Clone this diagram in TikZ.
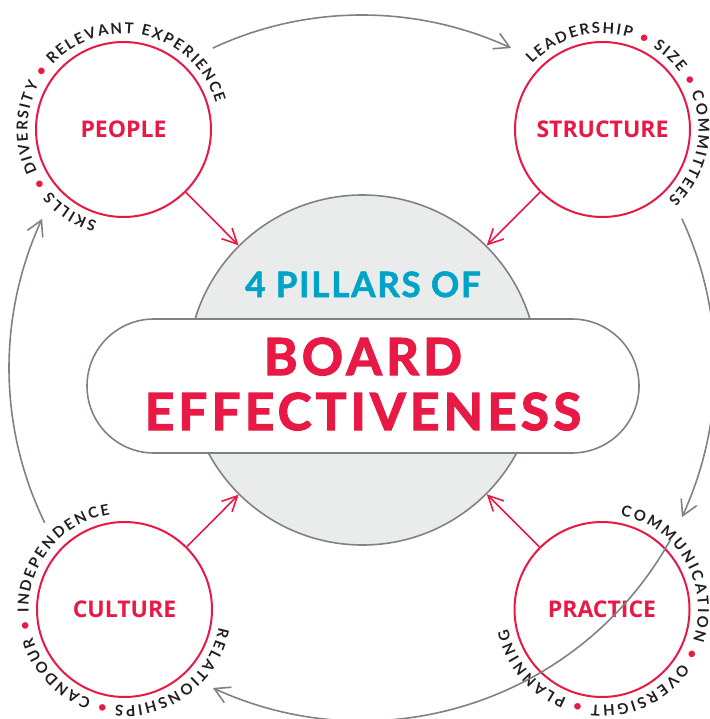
\documentclass[tikz,border=0pt]{standalone}
\usepackage{fontspec}
\setmainfont{Lato}
\newfontfamily\headfont{Lato}[LetterSpace=8.5, BoldFeatures={FakeBold=2.5}]
\newfontfamily\subfont{Lato}[LetterSpace=5, BoldFeatures={FakeBold=1.5}]
\newfontfamily\labelfont{Open Sans}
\newfontfamily\ringfont{Lato}
\usetikzlibrary{arrows.meta,decorations.text,bending}
\definecolor{brandred}{HTML}{E81944}
\definecolor{brandcyan}{HTML}{00A3C8}
\definecolor{linegrey}{HTML}{7F8284}
\definecolor{corefill}{HTML}{EAECEB}
\definecolor{ringink}{HTML}{231F20}
\newcommand\ringfmt{\ringfont\bfseries\fontsize{15pt}{15pt}\selectfont\color{ringink}}
\newcommand\dotfmt{\ringfont\bfseries\fontsize{15pt}{15pt}\selectfont\color{brandred}}
\tikzset{
  pillar/.style={circle, draw=brandred, line width=2pt, minimum size=175pt, inner sep=0pt,
    font=\labelfont\bfseries\fontsize{23pt}{24pt}\selectfont, text=brandred},
  core/.style={circle, draw=linegrey, fill=corefill, line width=1.6pt, minimum size=350pt, inner sep=0pt},
  pill/.style={rectangle, rounded corners=67pt, draw=linegrey, fill=white, line width=1.6pt,
    minimum width=552pt, minimum height=134pt},
  feed/.style={draw=brandred, line width=1.6pt, -{Straight Barb[length=15pt,width=15pt]}},
  cyclearrow/.style={draw=linegrey, line width=1.6pt, -{Straight Barb[length=15pt,width=17pt]}},
  ringtext/.style={decorate, decoration={text along path, text align={fit to path}, text={#1}}},
  headline/.style={anchor=base, text=brandred, font=\headfont\bfseries\fontsize{51pt}{52pt}\selectfont},
}
\begin{document}
\begin{tikzpicture}[x=1pt,y=1pt]
\useasboundingbox (0,0) rectangle (709,-719);
\coordinate (ring) at (362,-368);

% central circle and pill
\node[core] (core) at (362.5,-370) {};
\node[pill] (pill) at (363,-386) {};
\node[anchor=base, text=brandcyan, font=\subfont\bfseries\fontsize{35pt}{36pt}\selectfont] (pillars) at (363,-297) {4 PILLARS OF};
\node[headline] (board) at (363,-375) {BOARD};
\node[headline] (effect) at (363,-430) {EFFECTIVENESS};

% pillars
\node[pillar] (people) at (123.5,-129.5) {PEOPLE};
\node[pillar] (structure) at (602.5,-129.5) {STRUCTURE};
\node[pillar] (culture) at (124.5,-609.5) {CULTURE};
\node[pillar] (practice) at (602,-609.5) {PRACTICE};

% feeds into the core
\draw[feed] (people) -- (core);
\draw[feed] (structure) -- (core);
\draw[feed] (culture) -- (core);
\draw[feed] (practice) -- (core);

% ring texts
\path[ringtext={|\ringfmt|SKILLS |\dotfmt|• |\ringfmt|DIVERSITY |\dotfmt|• |\ringfmt|RELEVANT EXPERIENCE}]
  ([shift={(254:96)}]people.center) arc[start angle=254, end angle=16, radius=96];
\path[ringtext={|\ringfmt|LEADERSHIP |\dotfmt|• |\ringfmt|SIZE |\dotfmt|• |\ringfmt|COMMITTEES}]
  ([shift={(137:96)}]structure.center) arc[start angle=137, end angle=-47, radius=96];
\path[ringtext={|\ringfmt|RELATIONSHIPS |\dotfmt|• |\ringfmt|CANDOUR |\dotfmt|• |\ringfmt|INDEPENDENCE}]
  ([shift={(-11:96)}]culture.center) arc[start angle=-11, end angle=-261.4, radius=96];
\path[ringtext={|\ringfmt|COMMUNICATION |\dotfmt|• |\ringfmt|OVERSIGHT |\dotfmt|• |\ringfmt|PLANNING}]
  ([shift={(79:96)}]practice.center) arc[start angle=79, end angle=-168, radius=96];

% cycle arrows
\draw[cyclearrow] ([shift={(115:353)}]ring) arc[start angle=115, end angle=65, radius=353];
\draw[cyclearrow] ([shift={(25:353)}]ring) arc[start angle=25, end angle=-25, radius=353];
\draw[cyclearrow] ([shift={(-29:353)}]ring) arc[start angle=-29, end angle=-115, radius=353];
\draw[cyclearrow] ([shift={(206:353)}]ring) arc[start angle=206, end angle=155, radius=353];
\end{tikzpicture}
\end{document}
